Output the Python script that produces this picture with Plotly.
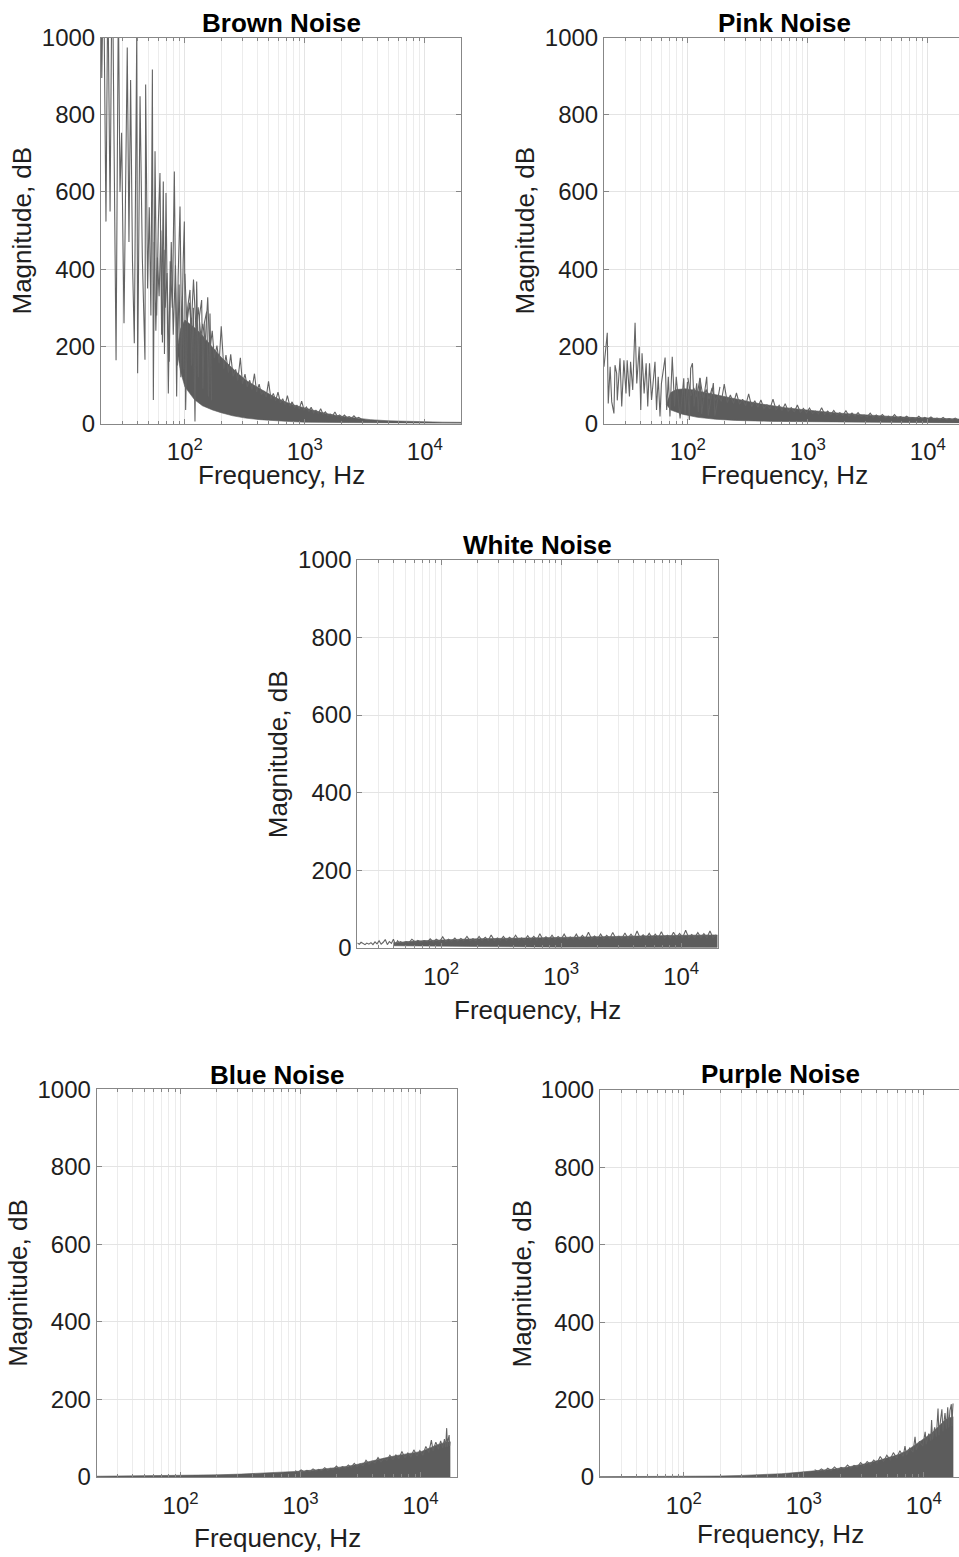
import math
import plotly.graph_objects as go

W, H = 959, 1557
FONT = "Liberation Sans, Arial, Helvetica, sans-serif"

# ---------------- spectra (frequency in Hz, magnitude) ----------------
# Brown noise: sparse low-frequency bins
brown_spike_f = [20.0, 20.3, 21.0, 22.0, 22.8, 23.8, 24.8, 25.7, 26.7, 27.9, 28.8, 29.7,
                 31.1, 33.1, 34.2, 35.3, 36.6, 37.9, 39.7, 40.4, 42.3, 44.2, 46.5, 47.1,
                 48.9, 50.5, 52.1, 53.6, 54.6, 56.4, 58.2, 60.1, 62.0, 64.0, 66.1, 67.6,
                 69.6, 72.8, 75.5, 78.6, 81.7, 85.4, 87.9, 91.1, 94.0, 96.8, 99.0, 101.5,
                 105.5, 110.3, 113.8, 117.7, 121.4, 125.4, 129.5, 132.4, 138.0, 141.3,
                 145.3, 151.9, 157.2, 161.9, 167.0]
brown_spike_v = [1080, 895, 1200, 523, 1150, 549, 1250, 700, 164, 1100, 600, 753,
                 260, 974, 470, 890, 420, 208, 1003, 130, 848, 430, 165, 878,
                 350, 560, 280, 917, 61, 705, 280, 520, 649, 230, 627, 180,
                 597, 78, 420, 300, 653, 70, 380, 562, 200, 420, 523, 35,
                 300, 346, 150, 300, 5, 368, 120, 280, 320, 90,
                 260, 290, 70, 285, 60]
# Brown noise: extra bins filling the 55-100 Hz stretch
brown_mid_f = [55.5, 57.3, 59.1, 61.0, 63.0, 65.0, 67.0, 68.6, 71.0, 74.0, 77.0, 80.0,
               83.5, 86.5, 89.5, 92.5, 95.5, 98.0]
brown_mid_v = [470, 240, 430, 330, 500, 210, 450, 300, 390, 160, 470, 230,
               410, 150, 360, 120, 330, 140]
# Brown noise: dense bins above 100 Hz (peak / dip pairs)
brown_dense = [(100, 388), (104, 259), (109, 313), (113, 249), (118, 373), (124, 238),
               (129, 301), (136, 225), (141, 258), (148, 213), (155, 327), (161, 186),
               (169, 240), (176, 170), (185, 202), (193, 156), (201, 252), (211, 142),
               (220, 177), (231, 132), (241, 179), (252, 122), (265, 140), (276, 112),
               (290, 170), (302, 103), (317, 128), (331, 95), (347, 112), (362, 88),
               (380, 129), (396, 82), (416, 102), (434, 75), (455, 84), (476, 69),
               (498, 109), (521, 64), (546, 78), (571, 59), (597, 81), (626, 54),
               (653, 64), (685, 49), (715, 72), (750, 45), (783, 56), (820, 42),
               (858, 47), (898, 38), (940, 58), (984, 35), (1030, 43), (1080, 31),
               (1128, 42), (1182, 28), (1236, 34), (1295, 26), (1354, 38), (1418, 24),
               (1483, 30), (1553, 21), (1625, 24), (1702, 20), (1780, 30), (1864, 18),
               (1950, 22), (2042, 16), (2136, 22), (2237, 15), (2340, 18), (2450, 14),
               (2563, 20), (2684, 13), (2808, 16), (2940, 12)]
brown_dense_f, brown_dense_v = map(list, zip(*brown_dense))
# Brown noise: core of the dense band (upper / lower envelope)
brown_hi_f = [86, 92, 100, 110, 125, 140, 160, 180, 200, 240, 280, 330, 400,
              480, 580, 700, 850, 1000, 1250, 1500, 2000, 2600, 3500, 5000, 7000, 10000,
              14000, 20000]
brown_hi_v = [190, 245, 268, 258, 244, 228, 208, 190, 172, 148, 128, 110, 94,
              80, 66, 55, 46, 40, 32, 26, 19, 14, 10, 7, 5.5, 4.5, 3.5, 3]
brown_lo_f = [86, 92, 100, 120, 140, 170, 200, 250, 320, 420, 560, 750, 1000,
              1500, 2500, 5000, 10000, 20000]
brown_lo_v = [190, 135, 95, 62, 46, 35, 28, 20, 14, 10, 7, 5, 3.5,
              2.5, 1.5, 1, 0.5, 0.3]

# Pink noise
pink_spike_f = [20.0, 21.3, 21.7, 22.5, 23.2, 24.2, 24.7, 25.5, 25.8, 27.2, 28.1, 29.3,
                30.5, 31.2, 32.6, 33.3, 34.7, 36.3, 37.5, 39.3, 40.5, 41.5, 43.2, 44.9,
                46.3, 47.9, 49.8, 53.2, 54.8, 56.6, 58.6, 60.2, 64.6, 66.6, 68.7, 70.9,
                74.1, 77.5, 80.0, 86.1, 92.4, 94.8, 99.2, 102.8, 105.5, 109.2, 112.6,
                118.5, 122.2, 126.3, 130.2, 143.6, 148.0, 163.0, 168.0, 185.0]
pink_spike_v = [147, 235, 52, 147, 56, 26, 151, 130, 60, 169, 44, 164,
                78, 164, 70, 160, 87, 261, 104, 199, 35, 182, 78, 156,
                44, 156, 61, 160, 35, 121, 18, 104, 171, 35, 121, 18,
                173, 44, 121, 13, 117, 22, 108, 9, 143, 156, 44,
                104, 30, 117, 25, 121, 20, 105, 20, 95]
pink_dense = [(100, 118), (106, 71), (112, 92), (119, 69), (126, 118), (134, 66),
              (142, 88), (150, 63), (159, 92), (169, 60), (179, 73), (190, 57),
              (201, 102), (213, 54), (226, 74), (240, 52), (254, 79), (269, 50),
              (286, 63), (303, 46), (321, 77), (340, 44), (361, 59), (383, 42),
              (406, 61), (430, 39), (456, 48), (483, 38), (512, 63), (543, 35),
              (576, 47), (610, 34), (647, 51), (686, 32), (727, 41), (771, 30),
              (817, 48), (866, 29), (918, 39), (973, 27), (1031, 40), (1093, 26),
              (1159, 32), (1228, 25), (1302, 41), (1380, 24), (1463, 32), (1551, 23),
              (1644, 34), (1742, 22), (1847, 28), (1958, 21), (2075, 33), (2200, 20),
              (2332, 27), (2472, 19), (2620, 28), (2777, 18), (2944, 22), (3120, 17),
              (3307, 27), (3506, 16), (3716, 22), (3939, 16), (4176, 23), (4426, 15),
              (4692, 19), (4973, 14), (5272, 23), (5588, 14), (5923, 18), (6279, 13),
              (6655, 19), (7055, 13), (7478, 15.5), (7927, 12), (8402, 19), (8906, 12),
              (9441, 16), (10010, 11), (10610, 17), (11240, 11), (11920, 14), (12630, 10),
              (13390, 16), (14190, 10), (15040, 13), (15950, 9.5), (16900, 14), (17920, 9)]
pink_dense_f, pink_dense_v = map(list, zip(*pink_dense))
pink_hi_f = [66, 72, 80, 95, 110, 130, 160, 200, 250, 320, 400, 500, 650, 850,
             1100, 1500, 2000, 3000, 4500, 7000, 10000, 15000, 20000]
pink_hi_v = [50, 80, 88, 90, 87, 82, 76, 70, 64, 57, 51, 46, 41, 37,
             33, 29, 26, 22, 19, 16, 14, 12, 11]
pink_lo_f = [66, 72, 90, 120, 170, 250, 500, 1000, 3000, 10000, 20000]
pink_lo_v = [50, 35, 24, 16, 11, 8, 5.5, 4, 3, 2, 1.5]

# White noise
white_spike_f = [20.0, 20.8, 21.5, 22.3, 23.2, 24.0, 25.0, 26.0, 27.0, 28.1, 29.2, 30.4,
                 31.6, 32.9, 34.2, 35.6, 37.0, 38.5, 40.0, 41.6, 43.3, 45.0]
white_spike_v = [12, 9, 14, 10, 8, 12, 9, 13, 8, 15, 10, 18,
                 9, 14, 21, 8, 16, 11, 22, 7, 18, 12]
white_dense = [(45, 17), (48, 12), (51, 16), (54, 13), (57, 22), (61, 14), (64, 19),
               (68, 14), (72, 18), (77, 15), (81, 23), (86, 15), (91, 22), (97, 16),
               (103, 28), (109, 16), (115, 22), (122, 17), (130, 25), (137, 17),
               (146, 24), (154, 18), (164, 29), (174, 18), (184, 23), (195, 18),
               (207, 29), (219, 19), (233, 27), (247, 19), (261, 33), (277, 19),
               (294, 25), (311, 19), (330, 29), (350, 19), (371, 27), (393, 20),
               (417, 32), (442, 20), (468, 25), (496, 20), (526, 31), (558, 20),
               (591, 29), (627, 20), (664, 36), (704, 21), (747, 28), (791, 21),
               (839, 32), (889, 21), (943, 29), (999, 22), (1059, 35), (1123, 22),
               (1190, 28), (1262, 22), (1337, 35), (1418, 22), (1503, 32), (1593, 23),
               (1688, 40), (1790, 23), (1897, 30), (2011, 23), (2132, 35), (2260, 23),
               (2395, 32), (2539, 24), (2691, 39), (2853, 24), (3024, 30), (3205, 24),
               (3398, 38), (3602, 24), (3818, 35), (4047, 24), (4290, 43), (4547, 25),
               (4820, 33), (5109, 25), (5416, 37), (5741, 25), (6085, 35), (6450, 25),
               (6837, 41), (7247, 25), (7682, 32), (8143, 25), (8632, 40), (9150, 26),
               (9699, 37), (10280, 26), (10900, 45), (11550, 26), (12240, 34),
               (12980, 26), (13760, 39), (14580, 26), (15460, 36), (16380, 26),
               (17370, 43), (18410, 26), (19510, 33)]
white_dense_f, white_dense_v = map(list, zip(*white_dense))
white_hi_f = [40, 60, 100, 200, 500, 1000, 2000, 5000, 10000, 20000]
white_hi_v = [13, 17, 20, 23, 25, 27, 29, 31, 32, 33]
white_lo_f = [40, 100, 300, 1000, 20000]
white_lo_v = [5, 4, 2, 1, 0.5]

# Blue noise
blue_dense = [(900, 16), (955, 12.5), (1010, 18), (1070, 13.5), (1130, 17), (1200, 14.5),
              (1270, 21), (1345, 15.5), (1420, 20), (1500, 16.5), (1590, 24), (1680, 17.5),
              (1780, 22), (1880, 19.5), (1990, 28), (2100, 21), (2230, 27), (2360, 23),
              (2500, 31), (2640, 25), (2800, 35), (2960, 27), (3130, 34), (3320, 29),
              (3510, 43), (3720, 33), (3940, 41), (4170, 36), (4420, 50), (4680, 39),
              (4950, 48), (5240, 43), (5550, 56), (5880, 45), (6230, 57), (6600, 48),
              (6990, 66), (7400, 50), (7840, 62), (8300, 52), (8790, 70), (9310, 54),
              (9860, 68), (10440, 56), (11060, 79), (11710, 63), (12300, 95), (12700, 68),
              (13400, 90), (14100, 72), (14700, 93), (15300, 75), (15800, 98), (16200, 77),
              (16500, 126), (16750, 78), (17000, 97), (17300, 108), (17450, 80), (17600, 92)]
blue_dense_f, blue_dense_v = map(list, zip(*blue_dense))
blue_hi_f = [20, 50, 100, 200, 320, 500, 700, 1000, 1400, 1900, 2500, 3000, 3600, 4300,
             5200, 6200, 7500, 9000, 10200, 11500, 12800, 14000, 15500, 16500, 17600]
blue_hi_v = [2, 3, 4, 5.5, 7.5, 10, 12, 15, 19, 23, 28, 33, 38, 44,
             50, 55, 59, 63, 66, 73, 80, 84, 88, 90, 90]
blue_lo_f = [20, 17600]
blue_lo_v = [0, 0]

# Purple noise
purple_dense = [(1230, 19), (1310, 14), (1400, 21), (1490, 15), (1580, 23), (1690, 17),
                (1800, 26), (1910, 18.5), (2040, 25), (2170, 21), (2310, 31), (2460, 23),
                (2620, 30), (2790, 26), (2970, 37), (3160, 29), (3370, 40), (3590, 32),
                (3820, 44), (4070, 36), (4330, 53), (4610, 40), (4910, 56), (5230, 45),
                (5570, 63), (5930, 49), (6310, 68), (6720, 53), (6960, 80), (7160, 57),
                (7620, 75), (8120, 64), (8440, 104), (8640, 70), (9200, 92), (9800, 80),
                (10250, 117), (10450, 85), (11000, 112), (11400, 94), (11600, 147),
                (11800, 97), (12300, 128), (12700, 104), (13120, 177), (13350, 108),
                (13800, 150), (14130, 175), (14400, 118), (15000, 165), (15400, 125),
                (15800, 180), (16100, 128), (16500, 172), (16940, 188), (17150, 132),
                (17350, 170), (17500, 190)]
purple_dense_f, purple_dense_v = map(list, zip(*purple_dense))
purple_hi_f = [20, 100, 200, 300, 470, 650, 890, 1230, 1700, 2340, 3220, 4440, 5200, 6140,
               7200, 8430, 9300, 10240, 11600, 13200, 15000, 16000, 17000, 17500]
purple_hi_v = [0.8, 1.5, 2.5, 4, 6, 8.5, 12, 16, 20, 26, 34, 45, 52, 58,
               68, 83, 92, 100, 113, 130, 147, 152, 156, 156]
purple_lo_f = [20, 17500]
purple_lo_v = [0, 0]

# ---------------- axes ----------------
major_ticks = [100, 1000, 10000]
major_text = ["10<sup>2</sup>", "10<sup>3</sup>", "10<sup>4</sup>"]
minor_ticks = [20, 30, 40, 50, 60, 70, 80, 90, 200, 300, 400, 500, 600, 700, 800, 900,
               2000, 3000, 4000, 5000, 6000, 7000, 8000, 9000, 20000]
mag_ticks = [0, 200, 400, 600, 800, 1000]

F_MIN = 20.0
PX_PER_DECADE = 120.0

# plot boxes in pixels: left, right (un-clipped), top, bottom
panels = [
    dict(title="Brown Noise", box=(101.0, 461.0, 37.5, 423.5), title_y=22.5, xlab_y=475,
         lines=[(brown_spike_f, brown_spike_v), (brown_mid_f, brown_mid_v),
                (brown_dense_f, brown_dense_v)],
         band=(brown_hi_f, brown_hi_v, brown_lo_f, brown_lo_v)),
    dict(title="Pink Noise", box=(604.0, 965.0, 37.5, 423.5), title_y=22.5, xlab_y=475,
         lines=[(pink_spike_f, pink_spike_v), (pink_dense_f, pink_dense_v)],
         band=(pink_hi_f, pink_hi_v, pink_lo_f, pink_lo_v)),
    dict(title="White Noise", box=(357.3, 717.7, 560.0, 947.7), title_y=545.0, xlab_y=1010,
         lines=[(white_spike_f, white_spike_v), (white_dense_f, white_dense_v)],
         band=(white_hi_f, white_hi_v, white_lo_f, white_lo_v)),
    dict(title="Blue Noise", box=(96.7, 457.3, 1089.3, 1477.0), title_y=1075.0, xlab_y=1538,
         lines=[(blue_dense_f, blue_dense_v)],
         band=(blue_hi_f, blue_hi_v, blue_lo_f, blue_lo_v)),
    dict(title="Purple Noise", box=(600.0, 961.0, 1090.0, 1477.0), title_y=1073.5, xlab_y=1534,
         lines=[(purple_dense_f, purple_dense_v)],
         band=(purple_hi_f, purple_hi_v, purple_lo_f, purple_lo_v)),
]

AXIS_COLOR = "rgb(135,135,135)"
GRID_COLOR = "rgb(228,228,228)"
MINOR_GRID = "rgb(236,236,236)"
TEXT_COLOR = "rgb(30,30,30)"
FILL_COLOR = "rgb(92,92,92)"
LINE_COLOR = "rgb(100,100,100)"

fig = go.Figure()
layout = dict(
    width=W, height=H, autosize=False,
    margin=dict(l=0, r=0, t=0, b=0, autoexpand=False),
    paper_bgcolor="white", plot_bgcolor="white",
    showlegend=False,
    font=dict(family=FONT, color=TEXT_COLOR),
)
annotations = []

for i, p in enumerate(panels, start=1):
    x0, x1, y0, y1 = p["box"]
    x1_vis = min(x1, W)
    clipped = x1 > W
    xa = "x" if i == 1 else f"x{i}"
    ya = "y" if i == 1 else f"y{i}"
    xkey = "xaxis" if i == 1 else f"xaxis{i}"
    ykey = "yaxis" if i == 1 else f"yaxis{i}"

    lo = math.log10(F_MIN)
    hi = lo + (x1_vis - x0) / PX_PER_DECADE

    layout[xkey] = dict(
        type="log", range=[lo, hi], domain=[x0 / W, x1_vis / W], anchor=ya,
        automargin=False,
        tickvals=major_ticks, ticktext=major_text,
        ticks="inside", ticklen=5, tickcolor=AXIS_COLOR, tickwidth=1,
        showline=True, linecolor=AXIS_COLOR, linewidth=1, mirror="ticks",
        showgrid=True, gridcolor=GRID_COLOR, gridwidth=1,
        minor=dict(tickvals=minor_ticks, ticks="inside", ticklen=3,
                   tickcolor=AXIS_COLOR, showgrid=True, gridcolor=MINOR_GRID,
                   gridwidth=1),
        tickfont=dict(family=FONT, size=24, color=TEXT_COLOR),
        ticklabelstandoff=7,
        zeroline=False, fixedrange=True,
    )
    layout[ykey] = dict(
        range=[0, 1000], domain=[1 - y1 / H, 1 - y0 / H], anchor=xa,
        automargin=False,
        tickvals=mag_ticks, ticks="inside", ticklen=5, tickcolor=AXIS_COLOR,
        showline=True, linecolor=AXIS_COLOR, linewidth=1,
        mirror=False if clipped else "ticks",
        showgrid=True, gridcolor=GRID_COLOR, gridwidth=1,
        tickfont=dict(family=FONT, size=24, color=TEXT_COLOR),
        ticklabelstandoff=0,
        zeroline=False, fixedrange=True,
    )

    # core of the dense band drawn as a filled outline
    hf, hv, lf, lv = p["band"]
    fig.add_trace(go.Scatter(
        x=list(hf) + list(lf)[::-1], y=list(hv) + list(lv)[::-1],
        xaxis=xa, yaxis=ya, mode="lines", fill="toself",
        fillcolor=FILL_COLOR, line=dict(color=FILL_COLOR, width=0.6),
        hoverinfo="skip",
    ))
    # individual bins as a thin trace on top
    for sf, sv in p["lines"]:
        fig.add_trace(go.Scatter(
            x=sf, y=sv, xaxis=xa, yaxis=ya, mode="lines",
            line=dict(color=LINE_COLOR, width=1.1), hoverinfo="skip",
        ))

    cx = (x0 + x1) / 2.0
    annotations.append(dict(
        text=f"<b>{p['title']}</b>", x=cx / W, y=1 - p["title_y"] / H,
        xref="paper", yref="paper", xanchor="center", yanchor="middle",
        showarrow=False, font=dict(family=FONT, size=26, color="black"),
    ))
    annotations.append(dict(
        text="Frequency, Hz", x=cx / W, y=1 - p["xlab_y"] / H,
        xref="paper", yref="paper", xanchor="center", yanchor="middle",
        showarrow=False, font=dict(family=FONT, size=26, color=TEXT_COLOR),
    ))
    annotations.append(dict(
        text="Magnitude, dB", x=(x0 - 79) / W, y=1 - ((y0 + y1) / 2.0) / H,
        xref="paper", yref="paper", xanchor="center", yanchor="middle",
        textangle=-90, showarrow=False,
        font=dict(family=FONT, size=26, color=TEXT_COLOR),
    ))

layout["annotations"] = annotations
fig.update_layout(**layout)
fig.write_html("out.html")
